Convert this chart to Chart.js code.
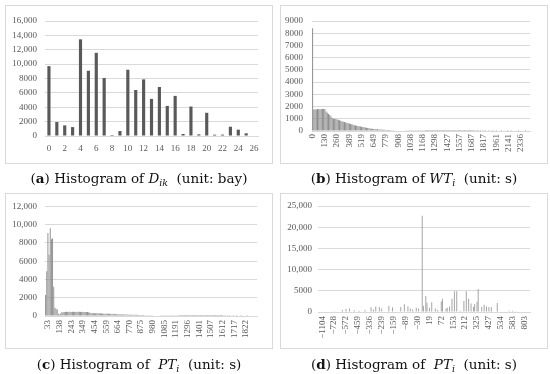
<!DOCTYPE html>
<html>
<head>
<meta charset="utf-8">
<script src="https://cdn.jsdelivr.net/npm/chart.js@4/dist/chart.umd.min.js"></script>
<style>
body { margin: 0; background: #fff; width: 550px; height: 374px; position: relative; overflow: hidden; }
canvas { position: absolute; }
.box { position: absolute; border: 1px solid #d9d9d9; box-sizing: border-box; pointer-events: none; }
.cap { position: absolute; width: 268px; text-align: center; font-family: "DejaVu Serif", serif; font-size: 13.5px; line-height: 18px; color: #111; white-space: nowrap; }
.cap sub { font-size: 9.5px; vertical-align: -3px; line-height: 0; }
</style>
</head>
<body>
<canvas id="chartA" width="268" height="159" style="left:5px;top:5px"></canvas>
<div class="box" style="left:5px;top:5px;width:268px;height:159px"></div>
<div class="cap" style="left:5px;top:169px">(<b>a</b>) Histogram of <i>D<sub>ik</sub></i>&nbsp; (unit: bay)</div>

<canvas id="chartB" width="268" height="159" style="left:280px;top:5px"></canvas>
<div class="box" style="left:280px;top:5px;width:268px;height:159px"></div>
<div class="cap" style="left:280px;top:169px">(<b>b</b>) Histogram of <i>WT<sub>i</sub></i>&nbsp; (unit: s)</div>

<canvas id="chartC" width="268" height="156" style="left:5px;top:193px"></canvas>
<div class="box" style="left:5px;top:193px;width:268px;height:156px"></div>
<div class="cap" style="left:5px;top:355px">(<b>c</b>) Histogram of&nbsp; <i>PT<sub>i</sub></i>&nbsp; (unit: s)</div>

<canvas id="chartD" width="268" height="156" style="left:280px;top:193px"></canvas>
<div class="box" style="left:280px;top:193px;width:268px;height:156px"></div>
<div class="cap" style="left:280px;top:355px">(<b>d</b>) Histogram of&nbsp; <i>PT<sub>i</sub></i>&nbsp; (unit: s)</div>

<script>
// (a) bays
var aBays = [0, 1, 2, 3, 4, 5, 6, 7, 8, 9, 10, 11, 12, 13, 14, 15, 16, 17, 18, 19, 20, 21, 22, 23, 24, 25, 26];
var aCounts = [9720, 1940, 1480, 1240, 13450, 9080, 11570, 8070, 140, 690, 9220, 6400, 7880, 5160, 6820, 4190, 5580, 280, 4100, 230, 3230, 180, 190, 1290, 880, 370, 0];

// (b) waiting time, one bar per bin, a tick every 10 bins
var bTicks = ['0', '130', '260', '389', '519', '649', '779', '908', '1038', '1168', '1298', '1427', '1557', '1687', '1817', '1961', '2141', '2336'];
var bCounts = [
  8400, 1750, 1780, 1760, 1800, 1790, 1770, 1800, 1810, 1790,
  1800, 1600, 1500, 1400, 1300, 1200, 1050, 1000, 1000, 980,
  950, 920, 880, 840, 800, 760, 730, 700, 670, 640,
  610, 580, 550, 520, 480, 450, 430, 400, 380, 360,
  340, 320, 300, 280, 260, 240, 220, 200, 190, 180,
  170, 160, 150, 140, 130, 125, 120, 110, 105, 100,
  90, 85, 80, 75, 70, 60, 55, 50, 48, 45,
  42, 40, 38, 36, 34, 32, 30, 28, 26, 25,
  24, 22, 20, 19, 18, 17, 16, 15, 14, 13,
  12, 11, 10, 10, 9, 9, 8, 8, 7, 7,
  6, 6, 5, 5, 5, 4, 4, 4, 3, 3,
  3, 3, 2, 2, 2, 2, 2, 1, 1, 1,
  1, 1, 1, 1, 1, 1, 1, 1, 1, 1,
  1, 1, 1, 0, 1, 1, 0, 1, 0, 1,
  0, 1, 0, 0, 1, 0, 0, 1, 0, 0,
  1, 0, 0, 0, 1, 0, 0, 0, 0, 1,
  0, 0, 1, 0, 0, 0, 0, 0, 1, 0,
  0, 0, 0, 0, 1, 0, 0, 0
];

// (c) processing time
var cTicks = ['33', '138', '243', '349', '454', '559', '664', '770', '875', '980', '1085', '1191', '1296', '1401', '1507', '1612', '1717', '1822'];
var cCounts = [
  2300, 4900, 9100, 6700, 9600, 8400, 8500, 3200, 900, 800,
  700, 250, 150, 300, 400, 420, 450, 450, 460, 450,
  460, 470, 450, 460, 470, 450, 460, 450, 470, 460,
  450, 460, 450, 440, 450, 440, 430, 420, 350, 330,
  320, 310, 300, 310, 300, 290, 300, 290, 280, 270,
  260, 250, 250, 240, 250, 240, 230, 240, 230, 220,
  200, 190, 190, 180, 180, 170, 170, 170, 160, 160,
  160, 150, 150, 150, 140, 140, 140, 130, 130, 120,
  110, 110, 100, 100, 100, 90, 90, 90, 80, 80,
  80, 70, 70, 60, 60, 60, 50, 50, 50, 40,
  40, 40, 30, 30, 30, 30, 20, 20, 20, 20,
  20, 20, 15, 15, 15, 10, 10, 10, 10, 10,
  10, 10, 8, 8, 8, 5, 5, 5, 5, 5,
  5, 4, 4, 4, 3, 3, 3, 3, 2, 2,
  2, 2, 2, 2, 1, 1, 1, 1, 1, 1,
  1, 1, 1, 0, 1, 0, 1, 0, 1, 0,
  0, 1, 0, 0, 1, 0, 0, 0, 1, 0,
  0, 0, 0, 1, 0, 0, 0, 0, 0, 0,
  0, 0
];

// (d) processing time difference
var dTicks = ['\u22121104', '\u2212728', '\u2212572', '\u2212459', '\u2212336', '\u2212239', '\u2212159', '\u221289', '\u221230', '19', '72', '153', '212', '325', '427', '534', '583', '803'];
var dCounts = [
  0, 0, 0, 0, 0, 0, 0, 0, 0, 0,
  100, 0, 0, 150, 0, 0, 100, 0, 0, 0,
  500, 0, 0, 700, 0, 0, 800, 0, 0, 0,
  400, 0, 0, 0, 300, 0, 0, 0, 0, 500,
  0, 0, 0, 0, 1100, 0, 600, 0, 1300, 0,
  0, 1200, 0, 800, 0, 0, 0, 0, 0, 1500,
  0, 0, 1100, 0, 0, 0, 0, 0, 0, 1200,
  0, 0, 1800, 0, 0, 1300, 0, 800, 0, 600,
  0, 0, 1000, 0, 800, 0, 0, 22700, 1500, 0,
  3800, 2200, 0, 1000, 0, 2300, 0, 0, 800, 0,
  500, 0, 0, 2500, 3100, 0, 0, 800, 1000, 0,
  1300, 0, 3100, 0, 4900, 0, 4900, 0, 0, 300,
  0, 0, 2600, 0, 4900, 0, 3100, 0, 2000, 0,
  1200, 1800, 0, 2400, 5400, 0, 0, 1200, 0, 1700,
  0, 1300, 0, 1200, 0, 1100, 0, 0, 0, 0,
  2100, 0, 0, 0, 0, 0, 0, 0, 0, 0,
  300, 0, 0, 300, 0, 0, 200, 0, 0, 0,
  0, 0, 0, 0, 0, 0, 0, 0
];

Chart.defaults.font.family = '"Liberation Serif", serif';
Chart.defaults.font.size = 9;
Chart.defaults.color = '#595959';

// spread the tick labels over the bins: one every `step` bins, starting at `offset`
function axisLabels(ticks, count, offset, step) {
  var out = [];
  for (var i = 0; i < count; i++) {
    var k = (i - offset) / step;
    out.push(i >= offset && k % 1 === 0 && ticks[k] !== undefined ? ticks[k] : '');
  }
  return out;
}

function yLabel(v) {
  return v >= 10000 ? v.toLocaleString('en-US') : String(v);
}

function drawHistogram(id, labels, counts, s) {
  var canvas = document.getElementById(id);
  return new Chart(canvas, {
    type: 'bar',
    data: {
      labels: labels,
      datasets: [{ data: counts, backgroundColor: s.color, barPercentage: s.barPct, categoryPercentage: 1 }]
    },
    options: {
      responsive: false,
      animation: false,
      devicePixelRatio: 1,
      layout: { padding: { left: 0, top: s.top, right: canvas.width - s.right, bottom: 0 } },
      plugins: { legend: { display: false }, tooltip: { enabled: false } },
      scales: {
        x: {
          grid: { display: false, drawTicks: false },
          border: { display: true, color: '#d9d9d9' },
          ticks: { autoSkip: false, padding: s.xPad, minRotation: s.rot, maxRotation: s.rot },
          afterFit: function(scale) { scale.height = canvas.height - s.bottom; }
        },
        y: {
          min: 0,
          max: s.max,
          grid: { color: '#d9d9d9', drawTicks: false },
          border: { display: false },
          ticks: { stepSize: s.step, padding: s.yPad, autoSkip: false, callback: yLabel },
          afterFit: function(scale) { scale.width = s.left; }
        }
      }
    }
  });
}

var aLabels = aBays.map(function(b) { return b % 2 ? '' : String(b); });

drawHistogram('chartA', aLabels, aCounts, {
  left: 40, top: 16, right: 253, bottom: 131, max: 16000, step: 2000,
  color: '#595959', barPct: 0.4, rot: 0, xPad: 7, yPad: 8
});
drawHistogram('chartB', axisLabels(bTicks, bCounts.length, 0, 10), bCounts, {
  left: 32, top: 16, right: 250, bottom: 126, max: 9000, step: 1000,
  color: '#8a8a8a', barPct: 0.8, rot: 90, xPad: 3, yPad: 9
});
drawHistogram('chartC', axisLabels(cTicks, cCounts.length, 2, 10), cCounts, {
  left: 40, top: 13, right: 252, bottom: 123, max: 12000, step: 2000,
  color: '#8c8c8c', barPct: 0.8, rot: 90, xPad: 4, yPad: 8
});
drawHistogram('chartD', axisLabels(dTicks, dCounts.length, 3, 10), dCounts, {
  left: 38, top: 13, right: 250, bottom: 119, max: 25000, step: 5000,
  color: '#a0a0a0', barPct: 0.8, rot: 90, xPad: 4, yPad: 6
});
</script>
</body>
</html>
